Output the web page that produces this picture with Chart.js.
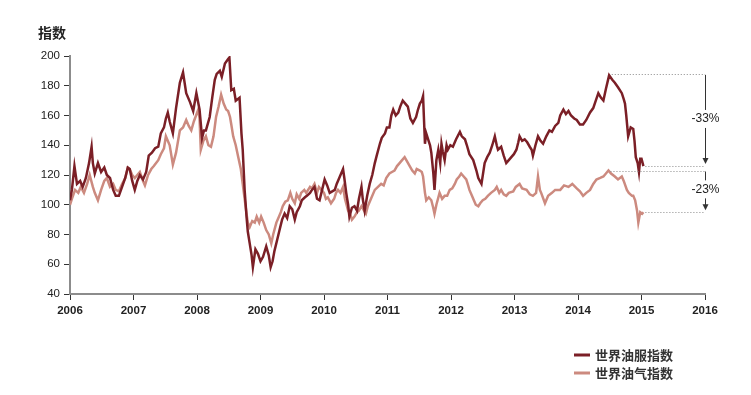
<!DOCTYPE html>
<html>
<head>
<meta charset="utf-8">
<script src="https://cdn.jsdelivr.net/npm/chart.js@4/dist/chart.umd.min.js"></script>
<style>
  html, body { margin: 0; padding: 0; background: #fff; }
  #wrap { width: 751px; height: 395px; }
</style>
</head>
<body>
<div id="wrap"><canvas id="grafico" width="751" height="395"></canvas></div>
<script>
// 世界油服指数 (dates as decimal years)
const serviceDates = [
  2006.00,2006.03,2006.07,2006.11,2006.16,2006.20,2006.25,2006.30,2006.34,2006.36,
  2006.39,2006.44,2006.49,2006.54,2006.58,2006.63,2006.68,2006.72,2006.77,2006.82,
  2006.87,2006.91,2006.94,2006.98,2007.02,2007.06,2007.10,2007.15,2007.20,2007.24,
  2007.29,2007.34,2007.39,2007.43,2007.48,2007.51,2007.54,2007.57,2007.62,2007.67,
  2007.73,2007.78,2007.83,2007.89,2007.94,2007.99,2008.04,2008.08,2008.11,2008.14,
  2008.20,2008.24,2008.28,2008.31,2008.36,2008.39,2008.44,2008.49,2008.51,2008.54,
  2008.58,2008.61,2008.67,2008.70,2008.72,2008.75,2008.78,2008.80,2008.83,2008.86,
  2008.88,2008.92,2008.96,2009.00,2009.04,2009.09,2009.13,2009.16,2009.19,2009.22,
  2009.26,2009.30,2009.34,2009.38,2009.42,2009.46,2009.50,2009.54,2009.57,2009.62,
  2009.65,2009.70,2009.73,2009.78,2009.81,2009.85,2009.89,2009.93,2009.97,2010.01,
  2010.05,2010.09,2010.13,2010.17,2010.20,2010.25,2010.27,2010.30,2010.32,2010.35,
  2010.38,2010.40,2010.44,2010.48,2010.52,2010.55,2010.59,2010.61,2010.64,2010.68,
  2010.72,2010.76,2010.80,2010.83,2010.88,2010.91,2010.96,2010.99,2011.03,2011.06,
  2011.09,2011.13,2011.17,2011.20,2011.24,2011.28,2011.32,2011.36,2011.40,2011.45,
  2011.48,2011.51,2011.54,2011.56,2011.59,2011.61,2011.64,2011.67,2011.69,2011.72,
  2011.74,2011.77,2011.80,2011.83,2011.85,2011.87,2011.90,2011.93,2011.95,2011.99,
  2012.03,2012.08,2012.14,2012.17,2012.22,2012.25,2012.29,2012.35,2012.40,2012.43,
  2012.48,2012.53,2012.57,2012.61,2012.65,2012.69,2012.72,2012.74,2012.79,2012.83,
  2012.87,2012.91,2012.95,2012.99,2013.03,2013.06,2013.08,2013.12,2013.16,2013.20,
  2013.24,2013.27,2013.29,2013.33,2013.37,2013.41,2013.45,2013.50,2013.55,2013.59,
  2013.64,2013.69,2013.72,2013.77,2013.81,2013.85,2013.89,2013.94,2013.98,2014.03,
  2014.08,2014.13,2014.19,2014.24,2014.28,2014.32,2014.36,2014.40,2014.44,2014.49,
  2014.54,2014.58,2014.63,2014.69,2014.72,2014.74,2014.76,2014.79,2014.83,2014.87,
  2014.89,2014.91,2014.94,2014.96,2014.98,2015.00,2015.03
]
const serviceIndex = [
  103,110,126,114,116,112,118,128,139,128,
  121,128,122,125,120,118,110,106,106,112,
  118,125,124,116,110,116,120,117,122,133,
  135,138,139,148,152,158,162,156,148,165,
  182,189,175,169,163,175,164,145,150,150,
  159,172,184,188,190,186,195,198,199,177,
  178,170,172,148,137,110,92,82,74,66,
  58,70,67,62,65,72,66,58,62,69,
  76,83,90,94,91,99,97,90,95,99,
  103,105,106,108,110,112,104,103,110,117,
  113,108,109,110,114,119,121,124,118,108,
  100,92,98,99,96,104,112,104,96,106,
  114,120,128,133,141,145,148,152,152,160,
  164,160,162,166,170,168,166,158,155,159,
  164,168,170,173,141,148,144,140,135,122,
  110,130,137,128,141,136,130,140,137,140,
  139,144,149,146,144,140,134,130,123,118,
  114,128,132,135,140,146,140,137,139,133,
  128,130,132,134,137,142,146,143,144,142,
  139,137,133,140,146,143,141,146,150,149,
  153,155,160,164,161,163,160,158,157,154,
  154,157,162,165,170,175,172,170,178,187,
  184,182,179,175,171,168,160,146,152,151,
  143,132,128,122,131,131,126
]

// 世界油气指数
const gasDates = [
  2006.00,2006.03,2006.08,2006.13,2006.17,2006.22,2006.27,2006.31,2006.36,2006.39,
  2006.44,2006.49,2006.54,2006.58,2006.63,2006.68,2006.72,2006.77,2006.82,2006.87,
  2006.91,2006.94,2006.98,2007.02,2007.06,2007.10,2007.15,2007.18,2007.23,2007.28,
  2007.32,2007.39,2007.43,2007.48,2007.51,2007.54,2007.57,2007.62,2007.67,2007.73,
  2007.78,2007.83,2007.87,2007.91,2007.95,2008.02,2008.04,2008.06,2008.10,2008.14,
  2008.18,2008.22,2008.26,2008.30,2008.34,2008.38,2008.42,2008.46,2008.49,2008.52,
  2008.54,2008.57,2008.61,2008.65,2008.69,2008.72,2008.75,2008.78,2008.80,2008.83,
  2008.87,2008.91,2008.94,2008.98,2009.01,2009.05,2009.09,2009.13,2009.17,2009.20,
  2009.25,2009.29,2009.32,2009.35,2009.39,2009.43,2009.47,2009.50,2009.54,2009.57,
  2009.61,2009.64,2009.69,2009.72,2009.78,2009.81,2009.85,2009.89,2009.92,2009.96,
  2010.00,2010.03,2010.06,2010.11,2010.16,2010.19,2010.22,2010.26,2010.30,2010.33,
  2010.38,2010.41,2010.44,2010.48,2010.52,2010.55,2010.59,2010.63,2010.66,2010.69,
  2010.74,2010.80,2010.85,2010.90,2010.94,2010.98,2011.03,2011.07,2011.11,2011.15,
  2011.19,2011.23,2011.27,2011.31,2011.35,2011.39,2011.43,2011.46,2011.51,2011.54,
  2011.56,2011.59,2011.61,2011.65,2011.69,2011.72,2011.74,2011.77,2011.82,2011.86,
  2011.90,2011.94,2011.98,2012.02,2012.06,2012.09,2012.13,2012.16,2012.20,2012.24,
  2012.27,2012.29,2012.33,2012.36,2012.39,2012.43,2012.46,2012.50,2012.54,2012.58,
  2012.63,2012.69,2012.72,2012.76,2012.79,2012.83,2012.87,2012.91,2012.98,2013.02,
  2013.08,2013.12,2013.19,2013.24,2013.29,2013.34,2013.37,2013.40,2013.42,2013.48,
  2013.53,2013.59,2013.64,2013.72,2013.78,2013.85,2013.91,2013.98,2014.03,2014.08,
  2014.13,2014.19,2014.24,2014.29,2014.35,2014.40,2014.44,2014.48,2014.52,2014.58,
  2014.63,2014.69,2014.72,2014.77,2014.80,2014.85,2014.87,2014.90,2014.93,2014.95,
  2014.98,2015.01,2015.03
]
const gasIndex = [
  100,104,110,108,112,108,114,120,112,108,
  103,110,116,118,112,114,110,109,114,118,
  125,124,120,118,120,122,116,113,120,124,
  126,130,134,138,146,143,140,127,135,150,
  152,157,153,150,156,164,158,137,143,146,
  140,139,146,159,166,174,168,164,163,159,
  154,146,140,132,124,114,104,94,88,85,
  89,88,92,88,92,88,83,80,74,80,
  88,92,95,99,102,103,108,104,101,107,
  104,108,110,108,112,111,114,108,112,110,
  108,104,105,101,104,108,110,108,112,104,
  96,94,90,92,95,96,99,96,94,99,
  104,110,112,114,113,118,121,122,123,126,
  128,130,132,129,126,123,121,124,123,122,
  119,108,103,105,103,98,94,100,108,104,
  106,106,110,111,114,117,119,121,119,117,
  113,110,106,103,100,99,101,103,104,106,
  108,110,112,108,110,107,106,108,109,112,
  114,111,110,107,106,108,119,110,108,101,
  106,108,110,110,113,112,114,111,109,106,
  108,110,114,117,118,119,121,123,121,119,
  117,119,116,110,108,106,106,103,96,88,
  95,94,95
]

// 峰值与最新值 (-33% / -23%)
const changeFrom = [188, 123]
const changeTo = [126, 95]
const changeLabels = ['-33%', '-23%']
const peakDates = [2014.50, 2014.48]
const lastDate = 2015.03

const corServico = '#7b1f26'
const corGas = '#cc8a7f'
const fonteNum = "'Liberation Sans', Arial, sans-serif"
const fonteCJK = "'Noto Sans CJK SC', sans-serif"

const extras = {
  id: 'extras',
  afterDatasetsDraw(chart) {
    const ctx = chart.ctx
    const xs = chart.scales.x
    const ys = chart.scales.y
    const xEnd = xs.getPixelForValue(2016)
    ctx.save()
    // linhas pontilhadas
    ctx.strokeStyle = '#8a8a8a'
    ctx.lineWidth = 1
    ctx.setLineDash([1, 2])
    const guias = [
      [peakDates[0], changeFrom[0]], [lastDate, changeTo[0]],
      [peakDates[1], changeFrom[1]], [lastDate, changeTo[1]]
    ]
    guias.forEach(g => {
      const y = Math.round(ys.getPixelForValue(g[1])) + 0.5
      ctx.beginPath()
      ctx.moveTo(xs.getPixelForValue(g[0]) + 2, y)
      ctx.lineTo(xEnd, y)
      ctx.stroke()
    })
    ctx.setLineDash([])
    // setas
    ctx.strokeStyle = '#333'
    ctx.fillStyle = '#333'
    ctx.font = '12px ' + fonteNum
    ctx.textAlign = 'center'
    ctx.textBaseline = 'middle'
    changeLabels.forEach((lab, i) => {
      const y0 = ys.getPixelForValue(changeFrom[i])
      const y1 = ys.getPixelForValue(changeTo[i]) - 2
      const yl = (y0 + y1) / 2 + (i === 0 ? 0 : -1)
      const x = Math.round(xEnd) + 0.5
      ctx.beginPath()
      ctx.moveTo(x, y0 + 1)
      ctx.lineTo(x, yl - 9)
      ctx.moveTo(x, yl + 9)
      ctx.lineTo(x, y1 - 5)
      ctx.stroke()
      ctx.beginPath()
      ctx.moveTo(x - 3, y1 - 6)
      ctx.lineTo(x + 3, y1 - 6)
      ctx.lineTo(x, y1)
      ctx.closePath()
      ctx.fill()
      ctx.fillStyle = '#222'
      ctx.fillText(lab, x, yl)
      ctx.fillStyle = '#333'
    })
    ctx.restore()
  },
  afterDraw(chart) {
    const ctx = chart.ctx
    ctx.save()
    ctx.fillStyle = '#222'
    ctx.font = 'bold 14px ' + fonteCJK
    ctx.textAlign = 'left'
    ctx.textBaseline = 'middle'
    ctx.fillText('指数', 38, 33)
    // legenda
    const itens = [['世界油服指数', corServico], ['世界油气指数', corGas]]
    itens.forEach((it, i) => {
      const y = 355 + i * 18
      ctx.strokeStyle = it[1]
      ctx.lineWidth = 3
      ctx.beginPath()
      ctx.moveTo(574, y)
      ctx.lineTo(590, y)
      ctx.stroke()
      ctx.fillStyle = '#333'
      ctx.font = 'bold 13px ' + fonteCJK
      ctx.fillText(it[0], 595, y)
    })
    ctx.restore()
  }
}

const ctx = document.getElementById('grafico').getContext('2d')
const grafico = new Chart(ctx, {
  type: 'line',
  data: {
    datasets: [
      {
        label: '世界油服指数',
        data: serviceDates.map((d, i) => ({x: d, y: serviceIndex[i]})),
        borderColor: corServico,
        borderWidth: 2.5,
        pointRadius: 0,
        tension: 0
      },
      {
        label: '世界油气指数',
        data: gasDates.map((d, i) => ({x: d, y: gasIndex[i]})),
        borderColor: corGas,
        borderWidth: 2.5,
        pointRadius: 0,
        tension: 0
      }
    ]
  },
  options: {
    responsive: false,
    animation: false,
    devicePixelRatio: 1,
    layout: { padding: { top: 56, left: 0, right: 46, bottom: 61 } },
    plugins: { legend: { display: false }, tooltip: { enabled: false } },
    scales: {
      x: {
        type: 'linear',
        min: 2006, max: 2016,
        afterFit: s => { s.height = 40 },
        border: { color: '#8c8c8c', width: 2 },
        grid: { drawOnChartArea: false, drawTicks: true, tickLength: 6, color: '#333' },
        ticks: {
          stepSize: 1, maxRotation: 0, padding: 4,
          color: '#222',
          font: { family: fonteNum, size: 11.5, weight: 'bold' },
          callback: v => String(v)
        }
      },
      y: {
        min: 40, max: 200,
        afterFit: s => { s.width = 70 },
        border: { color: '#8c8c8c', width: 2 },
        grid: { drawOnChartArea: false, drawTicks: true, tickLength: 6, color: '#333' },
        ticks: {
          stepSize: 20, padding: 4,
          color: '#222',
          font: { family: fonteNum, size: 11.5 }
        }
      }
    }
  },
  plugins: [extras]
})
</script>
</body>
</html>
